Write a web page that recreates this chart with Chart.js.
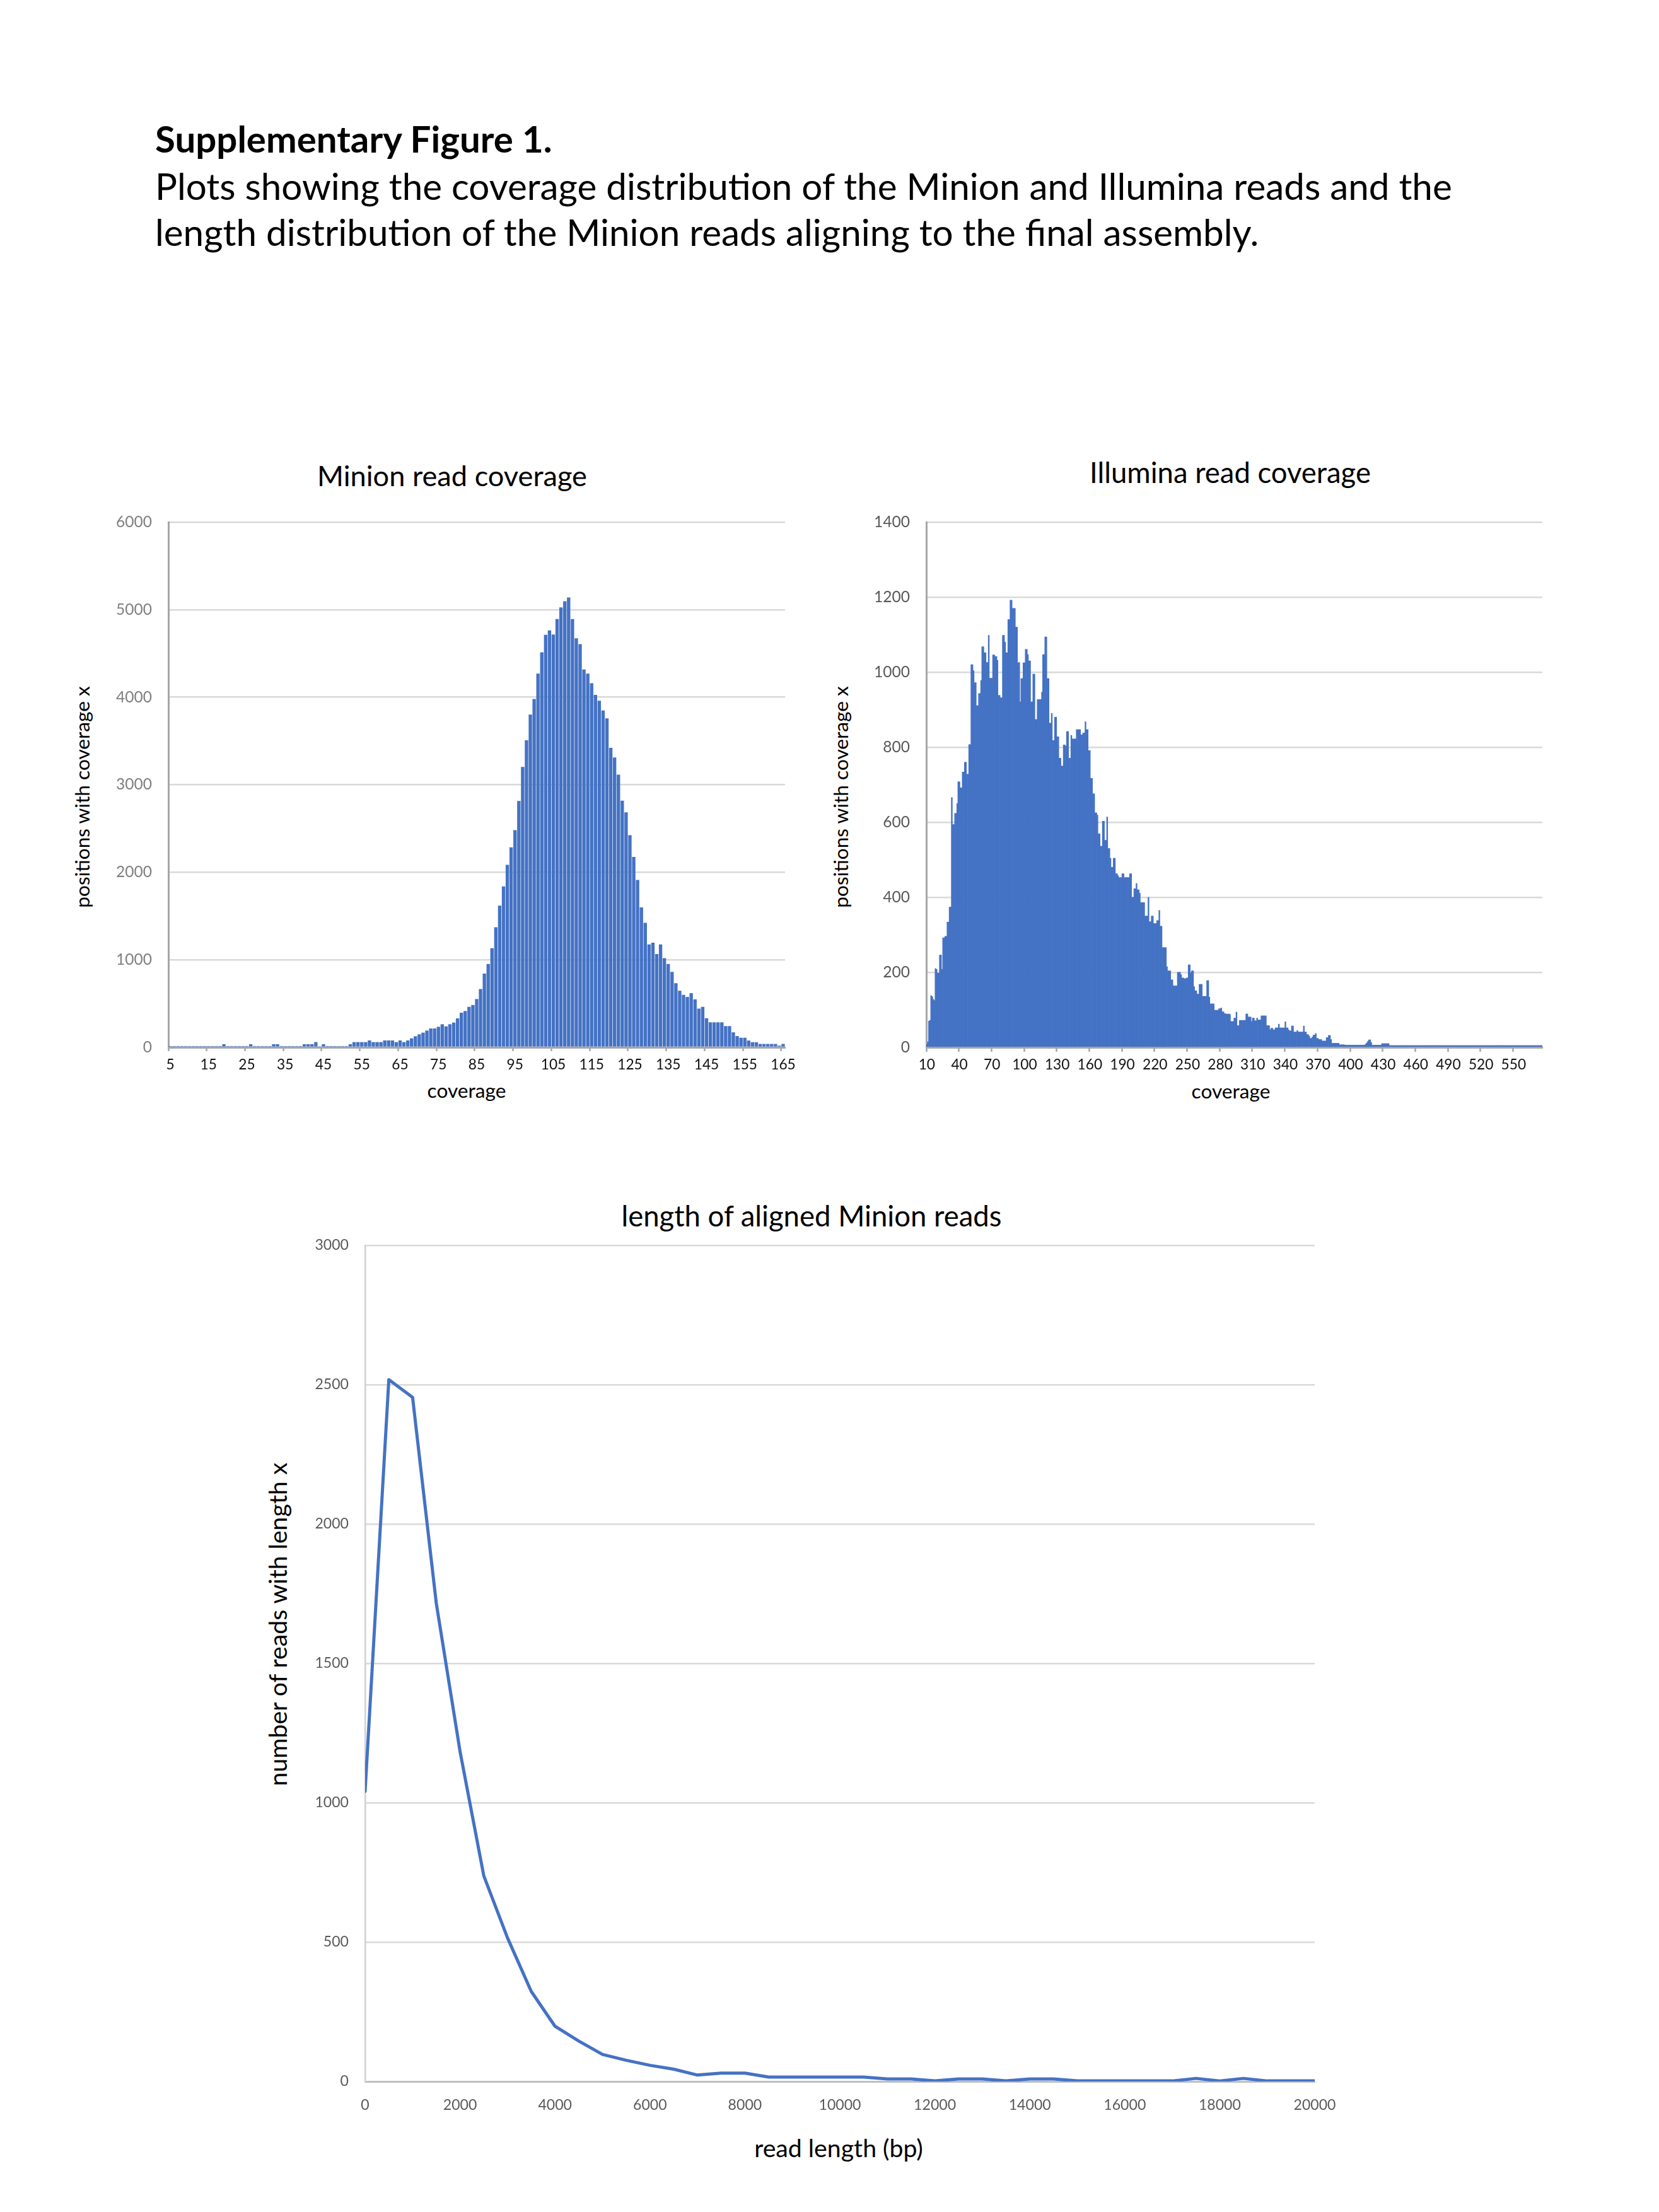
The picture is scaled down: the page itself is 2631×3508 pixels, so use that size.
<!DOCTYPE html>
<html>
<head>
<meta charset="utf-8">
<script src="https://cdn.jsdelivr.net/npm/chart.js@4.4.1/dist/chart.umd.min.js"></script>
<style>
  html, body { margin: 0; padding: 0; background: #ffffff; }
  #page { position: relative; width: 2631px; height: 3508px; background: #ffffff; overflow: hidden;
          font-family: Lato, "Open Sans", sans-serif; color: #000; }
  .t { position: absolute; white-space: nowrap; line-height: 1; }
  .c { position: absolute; }
  canvas { display: block; }
</style>
</head>
<body>
<div id="page">
  <div class="t" id="h1">Supplementary Figure 1.</div>
  <div class="t" id="h2">Plots showing the coverage distribution of the Minion and Illumina reads and the</div>
  <div class="t" id="h3">length distribution of the Minion reads aligning to the final assembly.</div>

  <div class="t" id="t1">Minion read coverage</div>
  <div class="t" id="t2">Illumina read coverage</div>
  <div class="t" id="t3">length of aligned Minion reads</div>

  <div class="t" id="x1">coverage</div>
  <div class="t" id="x2">coverage</div>
  <div class="t" id="x3">read length (bp)</div>
  <div class="t" id="y1">positions with coverage x</div>
  <div class="t" id="y2">positions with coverage x</div>
  <div class="t" id="y3">number of reads with length x</div>

  <div class="c" style="left:150px;top:780px"><canvas id="c1" width="1150" height="940" style="width:1150px;height:940px"></canvas></div>
  <div class="c" style="left:1300px;top:780px"><canvas id="c2" width="1220" height="940" style="width:1220px;height:940px"></canvas></div>
  <div class="c" style="left:470px;top:1940px"><canvas id="c3" width="1700" height="1430" style="width:1700px;height:1430px"></canvas></div>
</div>

<script>
// ---------------- DATA ----------------
// Minion read coverage: categories start at coverage 5 (5..165)
const MINION_START = 5;
const MINION_COUNTS = [
  15,15,15,15,15,15,15,15,15,15,
  15,15,15,15,36,15,15,15,15,15,
  15,36,15,15,15,15,15,36,36,15,
  15,15,15,15,15,36,36,36,60,12,
  36,15,15,15,15,15,15,36,60,60,
  60,60,79,60,60,60,79,79,79,60,
  79,60,79,103,127,149,168,192,216,216,
  235,264,240,264,283,331,396,415,463,484,
  552,666,843,953,1133,1372,1619,1838,2085,2285,
  2481,2815,3203,3508,3802,3979,4269,4512,4712,4763,
  4716,4892,5025,5096,5139,4892,4673,4606,4316,4269,
  4159,4026,3959,3849,3759,3422,3312,3116,2818,2685,
  2423,2176,1913,1599,1423,1176,1196,1066,1176,1019,
  953,862,733,647,600,576,619,549,443,463,
  333,286,286,286,286,243,243,172,129,110,
  110,78,59,59,39,39,39,39,39,20,
  39
];
const MINION_X_TICKS = [5,15,25,35,45,55,65,75,85,95,105,115,125,135,145,155,165];
const MINION_Y_TICKS = [0,1000,2000,3000,4000,5000,6000];

// Illumina read coverage: categories start at coverage 10 (10..576)
const ILLUMINA_START = 10;
const ILLUMINA_COUNTS = [
  8,15,70,72,138,135,128,125,210,208,
  198,198,246,246,208,292,292,296,296,334,
  334,374,374,666,594,594,624,624,650,708,
  708,692,692,734,734,760,760,728,728,807,
  807,1020,1020,1004,972,972,911,911,943,943,
  978,1068,1068,1052,1052,1026,1026,1098,984,984,
  984,1046,1046,1042,1042,1032,938,938,932,932,
  1098,1098,1080,1052,1052,1140,1140,1192,1192,1170,
  1170,1170,1120,1120,1025,1026,921,983,983,1025,
  1025,1061,1061,1047,1030,1030,921,921,995,995,
  874,874,927,927,927,927,947,1047,1047,1094,
  1094,983,983,864,864,890,818,818,880,880,
  828,828,771,771,750,750,806,806,803,842,
  842,771,771,832,822,822,822,822,847,847,
  847,847,833,833,838,838,868,847,847,791,
  791,717,717,676,676,625,625,619,569,569,
  536,536,603,603,552,552,614,530,530,504,
  480,480,504,504,463,463,458,453,453,453,
  463,463,453,453,453,453,453,463,463,400,
  400,423,423,437,420,420,411,386,386,386,
  386,350,350,350,400,335,335,350,350,330,
  330,330,338,338,365,323,323,266,266,266,
  266,215,204,204,204,180,180,164,164,164,
  164,200,200,200,194,185,185,183,183,185,
  185,220,220,199,204,204,162,151,151,142,
  142,168,168,168,136,136,136,136,178,178,
  134,116,116,116,116,99,99,99,99,103,
  103,105,95,95,90,90,88,89,89,88,
  69,69,69,78,78,94,58,58,72,72,
  72,72,72,72,89,89,81,81,81,69,
  78,78,71,71,78,73,73,73,84,84,
  84,84,84,58,58,58,47,51,51,47,
  47,52,52,52,62,52,52,52,52,52,
  68,52,52,47,44,44,57,57,41,41,
  41,45,41,41,41,41,41,57,41,41,
  34,34,30,24,24,28,33,33,37,24,
  24,21,21,21,17,17,17,17,26,26,
  32,32,21,11,11,11,11,11,11,11,
  7,7,7,7,7,6,6,6,6,6,
  6,6,6,6,6,6,6,6,6,6,
  6,6,6,6,9,12,16,20,20,13,
  6,6,6,6,6,6,6,6,6,10,
  10,10,10,10,10,10,5,5,5,5,
  5,5,5,5,5,5,5,5,5,5,
  5,5,5,5,5,5,5,5,5,5,
  5,5,5,5,5,5,5,5,5,5,
  5,5,5,5,5,5,5,5,5,5,
  5,5,5,5,5,5,5,5,5,5,
  5,5,5,5,5,5,5,5,5,5,
  5,5,5,5,5,5,5,5,5,5,
  5,5,5,5,5,5,5,5,5,5,
  5,5,5,5,5,5,5,5,5,5,
  5,5,5,5,5,5,5,5,5,5,
  5,5,5,5,5,5,5,5,5,5,
  5,5,5,5,5,5,5,5,5,5,
  5,5,5,5,5,5,5,5,5,5,
  5,5,5,5,5,5,5
];
const ILLUMINA_X_TICKS = [10,40,70,100,130,160,190,220,250,280,310,340,370,400,430,460,490,520,550];
const ILLUMINA_Y_TICKS = [0,200,400,600,800,1000,1200,1400];

// Length of aligned Minion reads
const READ_LENGTHS = [0,500,1000,1500,2000,2500,3000,3500,4000,4500,5000,5500,6000,6500,7000,7500,8000,8500,9000,9500,
  10000,10500,11000,11500,12000,12500,13000,13500,14000,14500,15000,15500,16000,16500,17000,17500,18000,18500,19000,19500,20000];
const READ_COUNTS = [1041,2518,2455,1715,1184,738,515,323,198,145,97,76,58,44,23,30,30,16,16,16,
  16,16,9,9,2,9,9,2,9,9,2,2,2,2,2,11,2,11,2,2,2];
const LENGTH_X_TICKS = [0,2000,4000,6000,8000,10000,12000,14000,16000,18000,20000];
const LENGTH_Y_TICKS = [0,500,1000,1500,2000,2500,3000];

// ---------------- STYLE / LAYOUT ----------------
const FONT = 'Lato';
const BLUE = '#4472C4';
const GRID = '#D9D9D9';
const AXIS = '#A6A6A6';

const mctx = document.createElement('canvas').getContext('2d');
function fitSize(text, weight, target) {
  mctx.font = weight + ' 200px ' + FONT;
  return 200 * target / mctx.measureText(text).width;
}
function placeLeft(id, left, cy, size, weight) {
  const el = document.getElementById(id);
  el.style.fontSize = size + 'px';
  el.style.fontWeight = weight;
  el.style.left = left + 'px';
  el.style.top = (cy - 0.56 * size) + 'px';
}
function placeCenter(id, cx, cy, size, rotate) {
  const el = document.getElementById(id);
  el.style.fontSize = size + 'px';
  el.style.left = cx + 'px';
  el.style.top = (cy - 0.05 * size) + 'px';
  el.style.transform = 'translate(-50%,-50%)' + (rotate ? ' rotate(-90deg)' : '');
}

// header
const sH1 = fitSize('Supplementary Figure 1.', 'bold', 631);
const sH2 = fitSize(document.getElementById('h2').textContent, 'normal', 2058);
const sH3 = fitSize(document.getElementById('h3').textContent, 'normal', 1752);
const sBody = (sH2 + sH3) / 2;
placeLeft('h1', 246, 224, sH1, 'bold');
placeLeft('h2', 246, 298, sBody, 'normal');
placeLeft('h3', 246, 371, sBody, 'normal');

// chart titles
placeCenter('t1', 717, 756, fitSize('Minion read coverage', 'normal', 428));
placeCenter('t2', 1951, 751, fitSize('Illumina read coverage', 'normal', 446));
placeCenter('t3', 1287, 1930, fitSize('length of aligned Minion reads', 'normal', 604));

// axis titles
const sAx = (fitSize('coverage', 'normal', 125) + fitSize('positions with coverage x', 'normal', 352)) / 2;
const sAx3 = (fitSize('read length (bp)', 'normal', 272) + fitSize('number of reads with length x', 'normal', 507)) / 2;
placeCenter('x1', 740, 1732, sAx);
placeCenter('x2', 1952, 1733, sAx);
placeCenter('y1', 131, 1266, sAx, true);
placeCenter('y2', 1334, 1266, sAx, true);
placeCenter('x3', 1330, 3408, sAx3);
placeCenter('y3', 440, 2578, sAx3, true);

// tick fonts
const sTickY = fitSize('6000', 'normal', 57);
const sTickX = fitSize('105', 'normal', 39.5);
const sTick3 = fitSize('20000', 'normal', 67);

// ---------------- CHARTS ----------------
function barChart(id, start, counts, xTicks, yTicks, geom, yTickColor, barPct) {
  const cats = counts.map((_, i) => start + i);
  const labelSet = new Set(xTicks);
  const tickLen = geom.tickLen;
  const padX = geom.labelCY - geom.baseY - tickLen - 0.6 * sTickX;
  return new Chart(document.getElementById(id), {
    type: 'bar',
    data: {
      labels: cats.map(String),
      datasets: [{
        data: counts,
        backgroundColor: BLUE,
        borderWidth: 0,
        barPercentage: barPct,
        categoryPercentage: 1.0
      }]
    },
    options: {
      responsive: false,
      maintainAspectRatio: false,
      animation: false,
      devicePixelRatio: 1,
      layout: { padding: geom.pad },
      plugins: { legend: { display: false }, tooltip: { enabled: false }, title: { display: false } },
      scales: {
        x: {
          type: 'category',
          offset: true,
          grid: {
            display: true, offset: true, drawOnChartArea: false, drawTicks: true,
            tickLength: tickLen, tickWidth: 2.5,
            tickColor: (c) => labelSet.has(cats[c.index]) ? AXIS : 'rgba(0,0,0,0)'
          },
          border: { display: true, color: AXIS, width: 3 },
          ticks: {
            autoSkip: false, maxRotation: 0, minRotation: 0, padding: padX,
            color: '#111111', font: { family: FONT, size: sTickX },
            callback: (v, i) => labelSet.has(cats[i]) ? String(cats[i]) : ''
          },
          afterFit: (s) => { s.height = geom.xH; s.paddingLeft = 0; s.paddingRight = 0; }
        },
        y: {
          type: 'linear',
          min: yTicks[0], max: yTicks[yTicks.length - 1],
          afterBuildTicks: (s) => { s.ticks = yTicks.map(v => ({ value: v })); },
          grid: { color: GRID, lineWidth: 2.5, drawTicks: false },
          border: { display: true, color: AXIS, width: 3 },
          ticks: { padding: 26, color: yTickColor, font: { family: FONT, size: sTickY }, callback: (v) => String(v) },
          afterFit: (s) => { s.width = geom.yW; s.paddingTop = 0; s.paddingBottom = 0; }
        }
      }
    }
  });
}

// Minion: plot area 267..1245 x 828..1661 (page coords)
barChart('c1', MINION_START, MINION_COUNTS, MINION_X_TICKS, MINION_Y_TICKS,
  { pad: { top: 48, right: 55, bottom: 0, left: 0 }, yW: 117, xH: 59, tickLen: 6, baseY: 1661, labelCY: 1689 },
  '#7F7F7F', 0.88);

// Illumina: plot area 1469..2446 x 828..1661
barChart('c2', ILLUMINA_START, ILLUMINA_COUNTS, ILLUMINA_X_TICKS, ILLUMINA_Y_TICKS,
  { pad: { top: 48, right: 74, bottom: 0, left: 0 }, yW: 169, xH: 59, tickLen: 7, baseY: 1661, labelCY: 1689 },
  '#595959', 1.0);

// Read length line chart: plot area 579..2085 x 1975..3301
new Chart(document.getElementById('c3'), {
  type: 'line',
  data: {
    datasets: [{
      data: READ_LENGTHS.map((x, i) => ({ x: x, y: READ_COUNTS[i] })),
      borderColor: BLUE,
      borderWidth: 5,
      pointRadius: 0,
      tension: 0,
      fill: false,
      borderJoinStyle: 'round',
      borderCapStyle: 'round'
    }]
  },
  options: {
    responsive: false,
    maintainAspectRatio: false,
    animation: false,
    devicePixelRatio: 1,
    layout: { padding: { top: 35, right: 85, bottom: 0, left: 0 } },
    plugins: { legend: { display: false }, tooltip: { enabled: false }, title: { display: false } },
    scales: {
      x: {
        type: 'linear',
        min: LENGTH_X_TICKS[0], max: LENGTH_X_TICKS[LENGTH_X_TICKS.length - 1],
        afterBuildTicks: (s) => { s.ticks = LENGTH_X_TICKS.map(v => ({ value: v })); },
        grid: { display: false, drawTicks: false },
        border: { display: true, color: '#BFBFBF', width: 3 },
        ticks: { padding: 3339 - 3301 - 0.6 * sTick3, color: '#595959', font: { family: FONT, size: sTick3 }, callback: (v) => String(v), maxRotation: 0, autoSkip: false },
        afterFit: (s) => { s.height = 69; s.paddingLeft = 0; s.paddingRight = 0; }
      },
      y: {
        type: 'linear',
        min: LENGTH_Y_TICKS[0], max: LENGTH_Y_TICKS[LENGTH_Y_TICKS.length - 1],
        afterBuildTicks: (s) => { s.ticks = LENGTH_Y_TICKS.map(v => ({ value: v })); },
        grid: { color: GRID, lineWidth: 2.5, drawTicks: false },
        border: { display: true, color: '#D0D0D0', width: 2.5 },
        ticks: { padding: 26, color: '#595959', font: { family: FONT, size: sTick3 }, callback: (v) => String(v) },
        afterFit: (s) => { s.width = 109; s.paddingTop = 0; s.paddingBottom = 0; }
      }
    }
  }
});
</script>
</body>
</html>
